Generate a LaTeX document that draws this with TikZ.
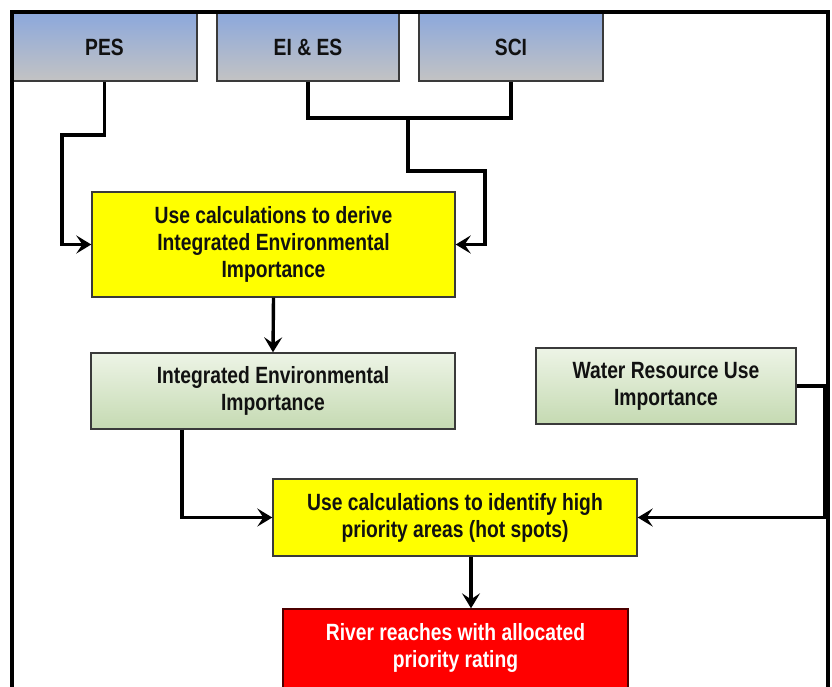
\documentclass[tikz,border=0pt]{standalone}
\usepackage{fontspec}
\setmainfont[FakeStretch=0.82]{Liberation Sans}
\usetikzlibrary{arrows.meta,shadings}
\definecolor{bluetop}{HTML}{8CA8DC}
\definecolor{graybot}{HTML}{C3C3C3}
\definecolor{greentop}{HTML}{EDF4E6}
\definecolor{greenbot}{HTML}{C5DAB2}
\definecolor{txt}{HTML}{111111}
\definecolor{edge}{HTML}{3A3A3A}
\definecolor{pureyellow}{HTML}{FFFF00}
\definecolor{purered}{HTML}{FF0000}
\tikzset{
  box/.style={rectangle, draw=edge, line width=1.4pt, align=center, inner sep=2pt,
    font=\fontsize{23.5}{27}\selectfont\bfseries, text=txt},
  srcbox/.style={box, top color=bluetop, bottom color=graybot, minimum height=68pt},
  greenbox/.style={box, top color=greentop, bottom color=greenbot, minimum height=76pt},
  yellowbox/.style={box, fill=pureyellow},
  redbox/.style={box, fill=purered, draw=black!70!red},
  conn/.style={line width=3.4pt, black},
  arr/.style={conn, -{Stealth[length=15pt,width=18pt,inset=6pt]}},
  frame/.style={line width=3.4pt, black}
}
\begin{document}
\begin{tikzpicture}[x=1pt,y=-1pt]
\useasboundingbox (0,0) rectangle (832,686);
\clip (0,0) rectangle (832,686);
% nodes
\node[srcbox, minimum width=185pt] (pes) at (104.5,47) {PES};
\node[srcbox, minimum width=182pt] (eies) at (308,47) {EI \& ES};
\node[srcbox, minimum width=184pt] (sci) at (511,47) {SCI};
\node[yellowbox, minimum width=363pt, minimum height=105pt] (calc1) at (273.5,244.5)
  {Use calculations to derive\\Integrated Environmental\\Importance};
\node[greenbox, minimum width=364pt] (iei) at (273,391)
  {Integrated Environmental\\Importance};
\node[greenbox, minimum width=260pt] (wrui) at (666,386)
  {Water Resource Use\\Importance};
\node[yellowbox, minimum width=364pt, minimum height=77pt] (calc2) at (455,517.5)
  {Use calculations to identify high\\priority areas (hot spots)};
\node[redbox, minimum width=345pt, minimum height=100pt] (river) at (455.5,659) {};
\node[box, draw=none, text=white] (rivertxt) at (455.5,648)
  {River reaches with allocated\\priority rating};
% helper coordinates
\coordinate (pesbend) at (62,135);
\coordinate (join) at (408,118);
\coordinate (joinbend) at (485,171);
\coordinate (ieibend) at (182,0);
\coordinate (wruibend) at (825,0);
\coordinate (ax) at (471,0);
% connectors
\draw[arr] (pes.south) |- (pesbend) |- (calc1.west);
\draw[conn] (eies.south) |- (join) -| (sci.south);
\draw[arr] (join) |- (joinbend) |- (calc1.east);
\draw[arr] (calc1.south) -- (iei.north);
\draw[arr] (iei.south -| ieibend) |- (calc2.west);
\draw[arr] (wrui.east) -| (wruibend |- calc2.east) -- (calc2.east);
\draw[arr] (calc2.south -| ax) -- (river.north -| ax);
% outer frame
\draw[frame] (12,700) -- (12,12) -- (828,12) -- (828,700);
\end{tikzpicture}
\end{document}
